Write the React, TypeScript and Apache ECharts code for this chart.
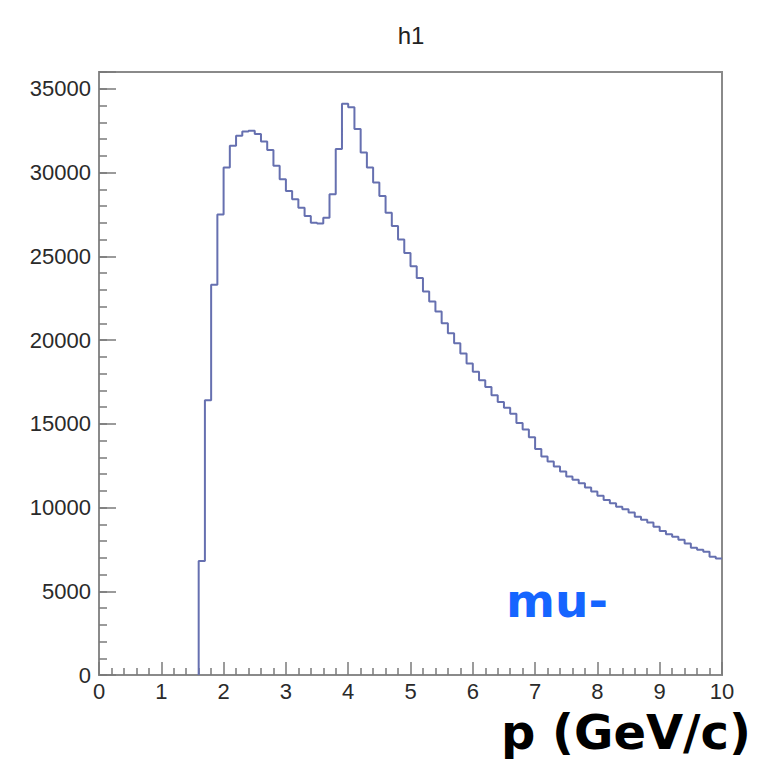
import React, { useEffect, useRef } from "react";
import * as echarts from "echarts";

const TITLE = "h1";
const PARTICLE = "mu-";
const X_TITLE = "p (GeV/c)";
const X_MIN = 0;
const X_MAX = 10;
const BIN_WIDTH = 0.1;
const Y_MAX = 36000;
const Y_MAJOR = 5000;
const Y_MINOR = 1000;

// counts per 0.1 GeV/c bin, from p = 0 to p = 10
const COUNTS = [
  0, 0, 0, 0, 0, 0, 0, 0, 0, 0,
  0, 0, 0, 0, 0, 0, 6800, 16400, 23300, 27500,
  30300, 31600, 32200, 32450, 32500, 32300, 31850, 31350, 30400, 29600,
  28900, 28400, 27900, 27400, 27000, 26950, 27300, 28700, 31400, 34100,
  33900, 32600, 31200, 30300, 29400, 28600, 27600, 26800, 26000, 25200,
  24400, 23700, 22900, 22300, 21700, 21000, 20400, 19800, 19200, 18600,
  18100, 17600, 17200, 16700, 16300, 15950, 15600, 15050, 14650, 14200,
  13500, 13050, 12750, 12450, 12150, 11850, 11650, 11450, 11200, 10950,
  10700, 10450, 10250, 10050, 9900, 9700, 9450, 9270, 9100, 8850,
  8600, 8400, 8250, 8070, 7850, 7600, 7480, 7360, 7060, 6950,
];

function buildPoints(): number[][] {
  const first = COUNTS.findIndex((v) => v > 0);
  const edge = (i: number) => +(X_MIN + i * BIN_WIDTH).toFixed(3);
  const pts: number[][] = [[edge(first), 0]];
  for (let i = first; i < COUNTS.length; i++) pts.push([edge(i), COUNTS[i]]);
  pts.push([X_MAX, COUNTS[COUNTS.length - 1]]);
  return pts;
}

export default function App() {
  const ref = useRef<HTMLDivElement>(null);
  useEffect(() => {
    if (!ref.current) return;
    const chart = echarts.init(ref.current, undefined, { renderer: "svg" });
    const axisColor = "#8a8a8a";
    const tickColor = "#7a7a7a";
    const labelStyle = {
      color: "#2a2a2a",
      fontSize: 22,
      fontFamily: "Liberation Sans, Arial, sans-serif",
    };
    chart.setOption({
      animation: false,
      backgroundColor: "#ffffff",
      grid: {
        show: true,
        left: 99,
        right: 44,
        top: 72,
        bottom: 88,
        borderColor: axisColor,
        borderWidth: 2,
        backgroundColor: "transparent",
      },
      xAxis: {
        type: "value",
        min: X_MIN,
        max: X_MAX,
        interval: 1,
        axisLine: { show: true, lineStyle: { color: axisColor, width: 2 } },
        axisTick: { show: true, inside: true, length: 13, lineStyle: { color: tickColor, width: 1.5 } },
        minorTick: { show: true, splitNumber: 5, length: 7, lineStyle: { color: tickColor, width: 1.5 } },
        splitLine: { show: false },
        minorSplitLine: { show: false },
        axisLabel: { ...labelStyle, margin: 5 },
      },
      yAxis: [
        {
          type: "value",
          min: 0,
          max: Y_MAX,
          interval: Y_MAJOR,
          position: "left",
          axisLine: { show: true, lineStyle: { color: axisColor, width: 2 } },
          axisTick: { show: true, inside: true, length: 17, lineStyle: { color: tickColor, width: 1.5 } },
          splitLine: { show: false },
          axisLabel: {
            ...labelStyle,
            margin: 8,
            formatter: (v: number) => (v % Y_MAJOR === 0 ? String(v) : ""),
          },
        },
        {
          type: "value",
          min: 0,
          max: Y_MAX,
          interval: Y_MINOR,
          position: "left",
          offset: 0,
          axisLine: { show: false },
          axisTick: { show: true, inside: true, length: 8, lineStyle: { color: tickColor, width: 1.5 } },
          splitLine: { show: false },
          axisLabel: { show: false },
        },
      ],
      series: [
        {
          type: "line",
          step: "end",
          data: buildPoints(),
          yAxisIndex: 0,
          showSymbol: false,
          symbol: "none",
          lineStyle: { color: "#6670b0", width: 2 },
          z: 3,
        },
      ],
      graphic: [
        {
          type: "text",
          x: 411,
          y: 35,
          style: {
            text: TITLE,
            fill: "#222",
            fontSize: 24,
            fontFamily: "Liberation Sans, Arial, sans-serif",
            textAlign: "center",
            textVerticalAlign: "middle",
          },
        },
        {
          type: "text",
          x: 506,
          y: 600,
          style: {
            text: PARTICLE,
            fill: "#1565ff",
            fontSize: 47,
            fontWeight: "bold",
            fontFamily: "DejaVu Sans, sans-serif",
            textAlign: "left",
            textVerticalAlign: "middle",
          },
        },
        {
          type: "text",
          x: 751,
          y: 732,
          style: {
            text: X_TITLE,
            fill: "#000",
            fontSize: 48,
            fontWeight: "bold",
            fontFamily: "DejaVu Sans, sans-serif",
            textAlign: "right",
            textVerticalAlign: "middle",
          },
        },
      ],
    });
    return () => chart.dispose();
  }, []);
  return (
    <div
      ref={ref}
      style={{ position: "fixed", left: 0, top: 0, width: 766, height: 763 }}
    />
  );
}
